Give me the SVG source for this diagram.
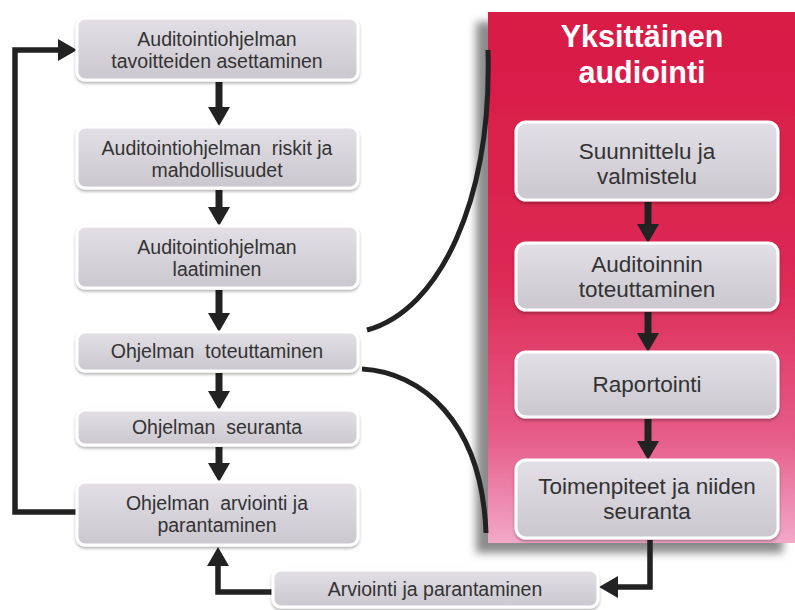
<svg xmlns="http://www.w3.org/2000/svg" width="795" height="610" viewBox="0 0 795 610">
  <defs>
    <linearGradient id="boxFill" x1="0" y1="0" x2="0" y2="1">
      <stop offset="0" stop-color="#e2dfe6"/>
      <stop offset="1" stop-color="#cbc7cf"/>
    </linearGradient>
    <linearGradient id="panelFill" x1="0" y1="0" x2="0" y2="1">
      <stop offset="0" stop-color="#d81a44"/>
      <stop offset="0.5" stop-color="#dc2954"/>
      <stop offset="0.8" stop-color="#e65c89"/>
      <stop offset="1" stop-color="#f2a9c8"/>
    </linearGradient>
    <filter id="boxShadow" x="-10%" y="-20%" width="120%" height="150%">
      <feDropShadow dx="0" dy="2" stdDeviation="1.5" flood-color="#000" flood-opacity="0.3"/>
    </filter>
    <filter id="panelShadow" x="-15%" y="-10%" width="130%" height="125%">
      <feDropShadow dx="-12" dy="10" stdDeviation="4.5" flood-color="#777" flood-opacity="0.85"/>
    </filter>
    <!-- arrowhead starts where the shaft ends -->
    <marker id="head" markerUnits="userSpaceOnUse" markerWidth="20" markerHeight="22" viewBox="0 0 20 22" refX="1" refY="11" orient="auto">
      <path d="M0,0 L19,11 L0,22 Z" fill="#222"/>
    </marker>
    <style>
      .box { fill: url(#boxFill); stroke: #ffffff; stroke-width: 3; filter: url(#boxShadow); }
      .lbl { font-family: "Liberation Sans", Arial, sans-serif; font-size: 19.5px; fill: #333; text-anchor: middle; white-space: pre; }
      .lblR { font-family: "Liberation Sans", Arial, sans-serif; font-size: 22.5px; fill: #333; text-anchor: middle; }
      .title { font-family: "Liberation Sans", Arial, sans-serif; font-size: 30.5px; font-weight: bold; fill: #fff; text-anchor: middle; }
      .arrow { fill: none; stroke: #222; stroke-width: 7; marker-end: url(#head); }
      .elbow { fill: none; stroke: #222; stroke-width: 5.5; marker-end: url(#head); }
      .line { fill: none; stroke: #222; stroke-width: 5; }
    </style>
  </defs>

  <rect width="795" height="610" fill="#ffffff"/>

  <!-- audit panel background -->
  <g id="panel">
    <rect x="488" y="12" width="307" height="531" fill="url(#panelFill)" filter="url(#panelShadow)"/>
    <text class="title" x="642" y="47">Yksittäinen</text>
    <text class="title" x="642" y="83">audiointi</text>
  </g>

  <!-- connectors -->
  <g id="connectors">
    <path class="arrow" d="M219,82 V108"/>
    <path class="arrow" d="M219,190 V208"/>
    <path class="arrow" d="M219,290 V314"/>
    <path class="arrow" d="M219,373 V392"/>
    <path class="arrow" d="M219,447 V464"/>
    <path class="arrow" d="M648,202 V225"/>
    <path class="arrow" d="M648,312 V334"/>
    <path class="arrow" d="M648,419 V442"/>
    <path class="elbow" d="M77,512 H15 V50 H59"/>
    <path class="elbow" d="M273,592 H218 V565"/>
    <path class="elbow" d="M650,540 V587 H617"/>
    <path class="line" d="M367,330 C440,310 492,200 488,50"/>
    <path class="line" d="M362,369 C420,372 482,420 486,533"/>
  </g>

  <!-- program level nodes -->
  <g id="n1">
    <rect class="box" x="77" y="18" width="281" height="62" rx="8"/>
    <text class="lbl" x="217" y="46">Auditointiohjelman</text>
    <text class="lbl" x="217" y="68">tavoitteiden asettaminen</text>
  </g>
  <g id="n2">
    <rect class="box" x="77" y="127" width="281" height="61" rx="8"/>
    <text class="lbl" x="217" y="155">Auditointiohjelman  riskit ja</text>
    <text class="lbl" x="217" y="177">mahdollisuudet</text>
  </g>
  <g id="n3">
    <rect class="box" x="77" y="226" width="281" height="62" rx="8"/>
    <text class="lbl" x="217" y="254">Auditointiohjelman</text>
    <text class="lbl" x="217" y="276">laatiminen</text>
  </g>
  <g id="n4">
    <rect class="box" x="77" y="332" width="281" height="39" rx="8"/>
    <text class="lbl" x="217" y="358">Ohjelman  toteuttaminen</text>
  </g>
  <g id="n5">
    <rect class="box" x="77" y="410" width="281" height="35" rx="8"/>
    <text class="lbl" x="217" y="434">Ohjelman  seuranta</text>
  </g>
  <g id="n6">
    <rect class="box" x="77" y="482" width="281" height="63" rx="8"/>
    <text class="lbl" x="217" y="510">Ohjelman  arviointi ja</text>
    <text class="lbl" x="217" y="532">parantaminen</text>
  </g>
  <g id="n7">
    <rect class="box" x="273" y="570" width="325" height="37" rx="8"/>
    <text class="lbl" x="435" y="596">Arviointi ja parantaminen</text>
  </g>

  <!-- single audit nodes -->
  <g id="a1">
    <rect class="box" x="516" y="122" width="262" height="78" rx="10"/>
    <text class="lblR" x="647" y="159">Suunnittelu ja</text>
    <text class="lblR" x="647" y="184">valmistelu</text>
  </g>
  <g id="a2">
    <rect class="box" x="516" y="243" width="262" height="67" rx="10"/>
    <text class="lblR" x="647" y="272">Auditoinnin</text>
    <text class="lblR" x="647" y="297">toteuttaminen</text>
  </g>
  <g id="a3">
    <rect class="box" x="516" y="352" width="262" height="65" rx="10"/>
    <text class="lblR" x="647" y="392">Raportointi</text>
  </g>
  <g id="a4">
    <rect class="box" x="516" y="460" width="262" height="78" rx="10"/>
    <text class="lblR" x="647" y="494">Toimenpiteet ja niiden</text>
    <text class="lblR" x="647" y="519">seuranta</text>
  </g>
</svg>
